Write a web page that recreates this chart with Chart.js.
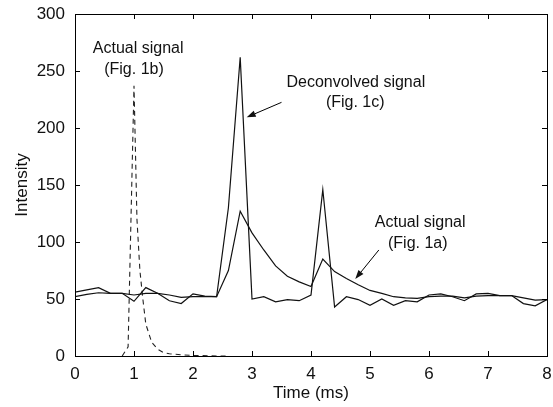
<!DOCTYPE html>
<html>
<head>
<meta charset="utf-8">
<script src="https://cdn.jsdelivr.net/npm/chart.js@4/dist/chart.umd.min.js"></script>
<style>
  html, body { margin: 0; padding: 0; background: #fff; }
  #wrap { width: 553px; height: 407px; position: relative; }
</style>
</head>
<body>
<div id="wrap"><canvas id="signalChart"></canvas></div>
<script>
/* =========================
   DATA
========================= */
const timeMs = [
  0, 0.2, 0.4, 0.6, 0.8, 1.0, 1.2, 1.4, 1.6, 1.8,
  2.0, 2.2, 2.4, 2.6, 2.8, 3.0, 3.2, 3.4, 3.6, 3.8,
  4.0, 4.2, 4.4, 4.6, 4.8, 5.0, 5.2, 5.4, 5.6, 5.8,
  6.0, 6.2, 6.4, 6.6, 6.8, 7.0, 7.2, 7.4, 7.6, 7.8, 8.0
];

// Fig. 1c - deconvolved (spiky)
const deconvolved = [
  56, 58, 60, 55, 55, 48, 60, 55, 48.5, 46,
  54.5, 52.5, 52, 130, 262, 50, 52, 47.5, 49.5, 48.5,
  53.5, 146, 43, 52, 49.5, 44.5, 50, 44.5, 48.5, 47.5,
  53.5, 54.5, 52, 48.5, 54.5, 55, 53, 53, 46, 44, 49.5
];

// Fig. 1a - actual signal (smooth decay)
const actualA = [
  52, 54, 55.5, 55, 55, 53.5, 55, 55, 53.5, 51.5,
  52, 52, 52, 75, 127, 108, 93, 79, 70, 65,
  61, 85, 74, 68, 62.5, 57.5, 55, 52, 51, 50.5,
  52, 52.5, 52.5, 51, 52.5, 53, 53, 53, 51, 49, 49.5
];

// Fig. 1b - actual signal (dashed pulse)
const timeB = [0.8, 0.9, 1.0, 1.05, 1.1, 1.15, 1.2, 1.3, 1.4, 1.5, 1.6, 1.8, 2.0, 2.4, 2.6];
const actualB = [0, 8, 237, 120, 75, 50, 28, 12, 6, 3, 2, 1, 0.5, 0, 0];

const xTicks = [0, 1, 2, 3, 4, 5, 6, 7, 8];
const yTicks = [0, 50, 100, 150, 200, 250, 300];

/* =========================
   ANNOTATIONS (data coords)
========================= */
const NOTES = [
  { text: "Actual signal", x: 1.07, y: 270 },
  { text: "(Fig. 1b)", x: 1.0, y: 251 },
  { text: "Deconvolved signal", x: 4.76, y: 240 },
  { text: "(Fig. 1c)", x: 4.75, y: 222 },
  { text: "Actual signal", x: 5.85, y: 116.7 },
  { text: "(Fig. 1a)", x: 5.81, y: 99 },
];
const ARROWS = [
  { from: [3.5, 222.5], to: [2.91, 209.4] },
  { from: [5.15, 93], to: [4.75, 67.5] },
];

const FONT = "Arial, 'Liberation Sans', sans-serif";

function pairs(xs, ys) {
  return xs.map((x, i) => ({ x, y: ys[i] }));
}

/* =========================
   BOX + INWARD TICKS + NOTES
========================= */
const boxPlugin = {
  id: "boxTicks",
  afterDraw(chart) {
    const { ctx, chartArea: a, scales } = chart;
    const len = 5;
    ctx.save();
    ctx.strokeStyle = "#000";
    ctx.lineWidth = 1;
    ctx.strokeRect(a.left + 0.5, a.top + 0.5, a.right - a.left, a.bottom - a.top);

    ctx.beginPath();
    xTicks.forEach((v) => {
      const px = Math.round(scales.x.getPixelForValue(v)) + 0.5;
      ctx.moveTo(px, a.bottom); ctx.lineTo(px, a.bottom - len);
      ctx.moveTo(px, a.top); ctx.lineTo(px, a.top + len);
    });
    yTicks.forEach((v) => {
      const py = Math.round(scales.y.getPixelForValue(v)) + 0.5;
      ctx.moveTo(a.left, py); ctx.lineTo(a.left + len, py);
      ctx.moveTo(a.right, py); ctx.lineTo(a.right - len, py);
    });
    ctx.stroke();

    // labels
    ctx.fillStyle = "#111";
    ctx.font = "16px " + FONT;
    ctx.textAlign = "center";
    ctx.textBaseline = "middle";
    NOTES.forEach((n) => {
      ctx.fillText(n.text, scales.x.getPixelForValue(n.x), scales.y.getPixelForValue(n.y));
    });

    // arrows
    ARROWS.forEach((ar) => {
      const x1 = scales.x.getPixelForValue(ar.from[0]);
      const y1 = scales.y.getPixelForValue(ar.from[1]);
      const x2 = scales.x.getPixelForValue(ar.to[0]);
      const y2 = scales.y.getPixelForValue(ar.to[1]);
      const ang = Math.atan2(y2 - y1, x2 - x1);
      const hl = 9, hw = 3.2;
      const bx = x2 - hl * Math.cos(ang), by = y2 - hl * Math.sin(ang);
      ctx.beginPath();
      ctx.moveTo(x1, y1); ctx.lineTo(bx, by);
      ctx.stroke();
      ctx.beginPath();
      ctx.moveTo(x2, y2);
      ctx.lineTo(bx + hw * Math.sin(ang), by - hw * Math.cos(ang));
      ctx.lineTo(bx - hw * Math.sin(ang), by + hw * Math.cos(ang));
      ctx.closePath();
      ctx.fill();
    });
    ctx.restore();
  },
};

/* =========================
   CHART
========================= */
const lineStyle = { borderColor: "#111", borderWidth: 1.2, pointRadius: 0, tension: 0, fill: false };

new Chart(document.getElementById("signalChart"), {
  type: "line",
  data: {
    datasets: [
      { label: "Deconvolved signal (Fig. 1c)", data: pairs(timeMs, deconvolved), ...lineStyle },
      { label: "Actual signal (Fig. 1a)", data: pairs(timeMs, actualA), ...lineStyle },
      {
        label: "Actual signal (Fig. 1b)",
        data: pairs(timeB, actualB),
        ...lineStyle,
        borderColor: "#222",
        borderWidth: 1.1,
        borderDash: [5, 4],
      },
    ],
  },
  options: {
    responsive: true,
    maintainAspectRatio: false,
    animation: false,
    layout: { padding: { top: 14, right: 6, left: 0, bottom: 0 } },
    plugins: { legend: { display: false }, tooltip: { enabled: false } },
    scales: {
      x: {
        type: "linear",
        min: 0,
        max: 8,
        afterBuildTicks: (s) => { s.ticks = xTicks.map((v) => ({ value: v })); },
        afterFit: (s) => { s.height = 51; s.paddingLeft = 0; s.paddingRight = 0; },
        grid: { display: false, drawTicks: false },
        border: { display: false },
        ticks: { color: "#111", font: { family: FONT, size: 17 }, padding: 8, maxRotation: 0 },
        title: {
          display: true,
          text: "Time (ms)",
          color: "#111",
          font: { family: FONT, size: 17 },
          padding: { top: 0, bottom: 3 },
        },
      },
      y: {
        min: 0,
        max: 300,
        afterBuildTicks: (s) => { s.ticks = yTicks.map((v) => ({ value: v })); },
        afterFit: (s) => { s.width = 75; s.paddingTop = 0; s.paddingBottom = 0; },
        grid: { display: false, drawTicks: false },
        border: { display: false },
        ticks: { color: "#111", font: { family: FONT, size: 17 }, padding: 10 },
        title: {
          display: true,
          text: "Intensity",
          color: "#111",
          font: { family: FONT, size: 17 },
          padding: { top: 12, bottom: 0 },
        },
      },
    },
  },
  plugins: [boxPlugin],
});
</script>
</body>
</html>
